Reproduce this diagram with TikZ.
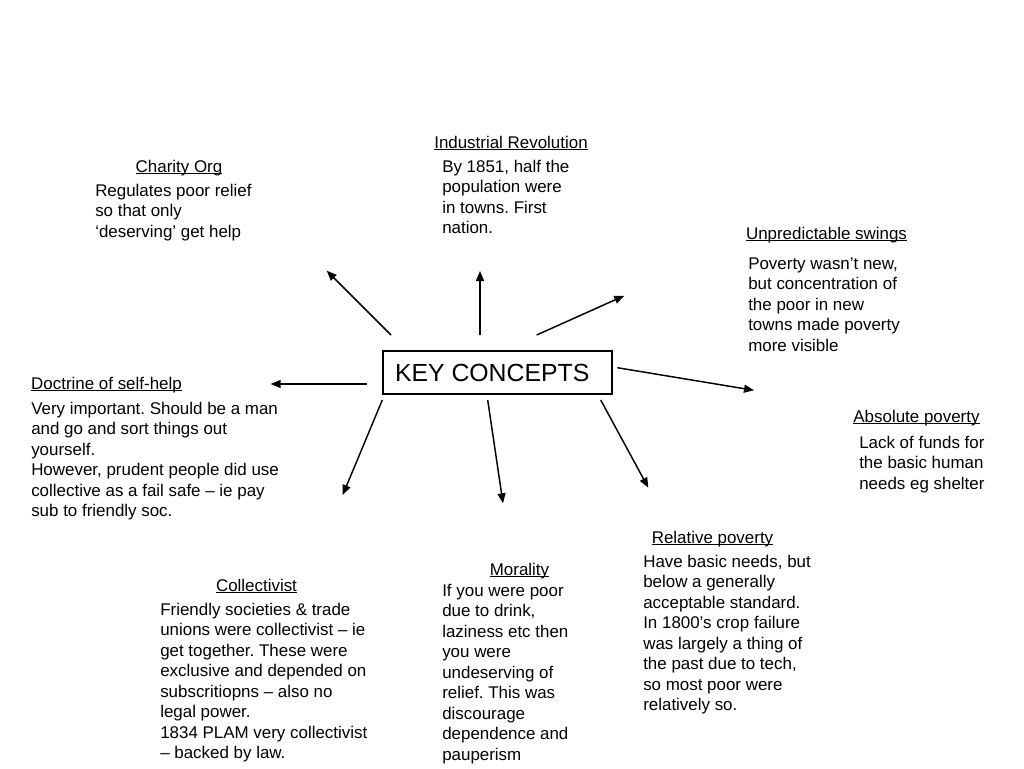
\documentclass[tikz,border=0pt]{standalone}
\usepackage{fontspec}
\setmainfont{Liberation Sans}
\usetikzlibrary{arrows.meta}
\frenchspacing
\newsavebox\ulbox
\newcommand{\ulx}[1]{\sbox\ulbox{#1}\rlap{\rule[-1.7pt]{\wd\ulbox}{0.7pt}}\usebox\ulbox}
\newcommand{\bodyfs}{\fontsize{12.7}{15.38}\selectfont}
\newcommand{\keyfs}{\fontsize{18.6}{22}\selectfont}
\begin{document}
\begin{tikzpicture}[x=0.75pt,y=-0.75pt,
  title/.style={anchor=base, inner sep=0pt, font=\bodyfs},
  body/.style={anchor=north west, inner sep=0pt, align=left, font=\bodyfs},
  arr/.style={line width=1.1pt, -{Triangle[length=7.5pt,width=6pt]}},
  keybox/.style={draw, line width=0.8pt, minimum width=171.75pt, minimum height=32.25pt, inner sep=0pt, font=\keyfs}]
\useasboundingbox (0,0) rectangle (1024,768);

% central box
\node[keybox] (kc) at (497.5,372.5) {\hspace*{-8pt}KEY CONCEPTS};

% titles
\node[title] (t1) at (179,172) {\ulx{Charity Org}};
\node[title] (t2) at (511,148) {\ulx{Industrial Revolution}};
\node[title] (t3) at (826.5,239) {\ulx{Unpredictable swings}};
\node[title] (t4) at (106.5,389) {\ulx{Doctrine of self-help}};
\node[title] (t5) at (916.5,422) {\ulx{Absolute poverty}};
\node[title] (t6) at (712.5,543) {\ulx{Relative poverty}};
\node[title] (t7) at (519.5,575) {\ulx{Morality}};
\node[title] (t8) at (256.5,591) {\ulx{Collectivist}};

% bodies
\node[body] (b1) at (95,181.6) {\strut Regulates poor relief\\so that only\\‘deserving’ get help};
\node[body] (b2) at (442,157.6) {\strut By 1851, half the\\population were\\in towns. First\\nation.};
\node[body] (b3) at (748,254.6) {\strut Poverty wasn’t new,\\but concentration of\\the poor in new\\towns made poverty\\more visible};
\node[body] (b4) at (31,399.6) {\strut Very important. Should be a man\\and go and sort things out\\yourself.\\However, prudent people did use\\collective as a fail safe – ie pay\\sub to friendly soc.};
\node[body] (b5) at (859,433.6) {\strut Lack of funds for\\the basic human\\needs eg shelter};
\node[body] (b6) at (643,552.6) {\strut Have basic needs, but\\below a generally\\acceptable standard.\\In 1800’s crop failure\\was largely a thing of\\the past due to tech,\\so most poor were\\relatively so.};
\node[body] (b7) at (442,581.6) {\strut If you were poor\\due to drink,\\laziness etc then\\you were\\undeserving of\\relief. This was\\discourage\\dependence and\\pauperism};
\node[body] (b8) at (160,600.6) {\strut Friendly societies \& trade\\unions were collectivist – ie\\get together. These were\\exclusive and depended on\\subscritiopns – also no\\legal power.\\1834 PLAM very collectivist\\– backed by law.};

% arrow end points
\coordinate (s1) at (391,335);   \coordinate (e1) at (326.7,270.7);
\coordinate (s2) at (480,335);   \coordinate (e2) at (480,271);
\coordinate (s3) at (536.7,335); \coordinate (e3) at (624.3,295.7);
\coordinate (s4) at (366.7,384); \coordinate (e4) at (270.7,384);
\coordinate (s5) at (617.3,367.7); \coordinate (e5) at (754,390.3);
\coordinate (s6) at (382.3,400); \coordinate (e6) at (342.7,495);
\coordinate (s7) at (487.7,400); \coordinate (e7) at (503,503.3);
\coordinate (s8) at (600.7,400); \coordinate (e8) at (648.3,487.7);

\draw[arr] (s1) -- (e1);
\draw[arr] (s2) -- (e2);
\draw[arr] (s3) -- (e3);
\draw[arr] (s4) -- (e4);
\draw[arr] (s5) -- (e5);
\draw[arr] (s6) -- (e6);
\draw[arr] (s7) -- (e7);
\draw[arr] (s8) -- (e8);
\end{tikzpicture}
\end{document}
